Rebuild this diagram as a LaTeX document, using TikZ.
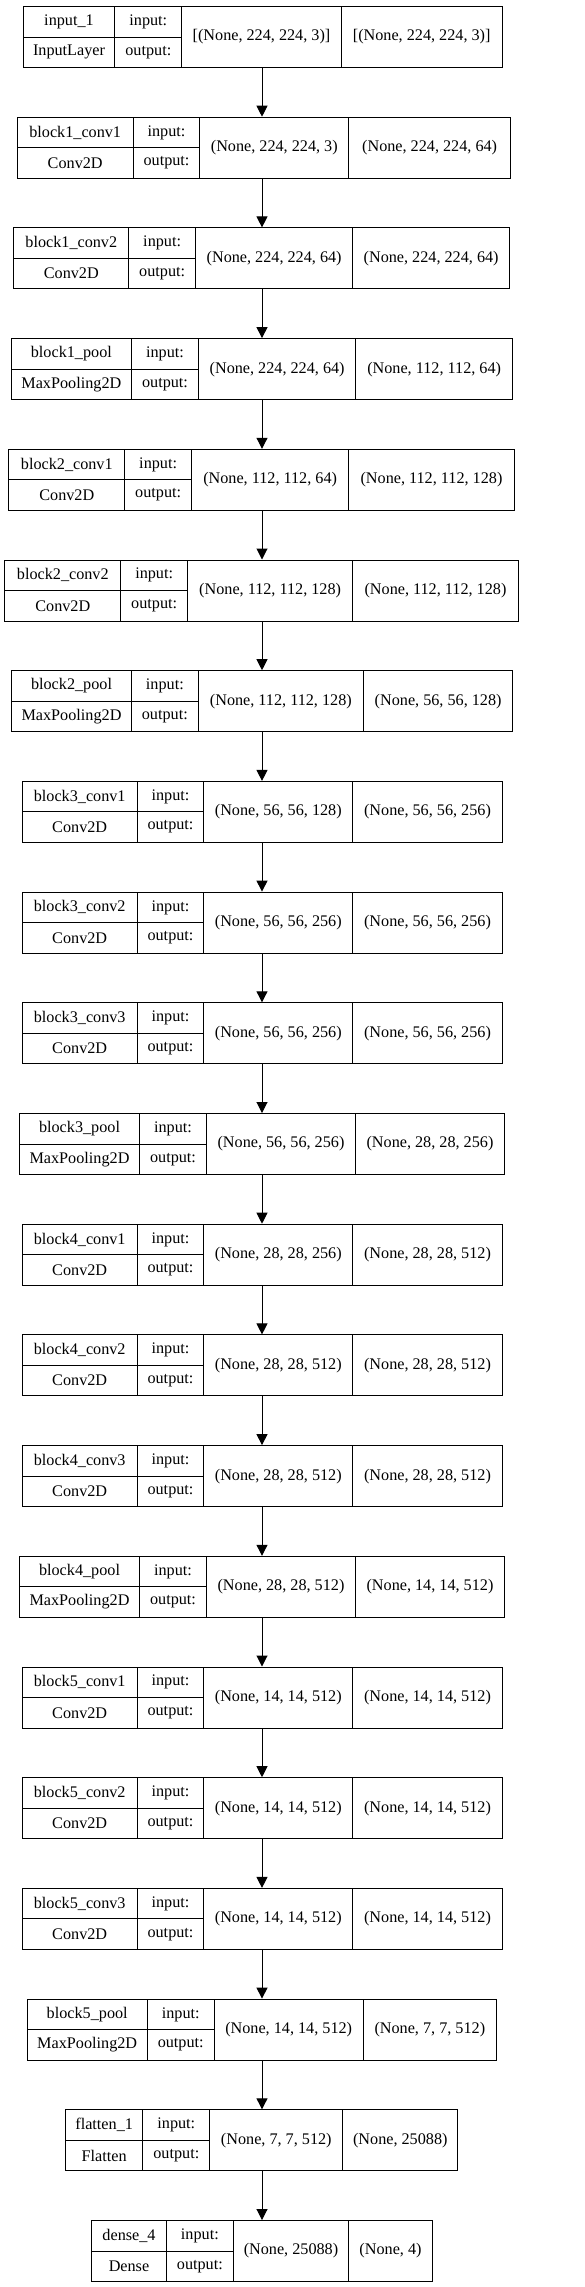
\documentclass[tikz,border=0pt]{standalone}
\usepackage{fontspec}
\setmainfont{Liberation Serif}
\usetikzlibrary{arrows.meta}

\begin{document}
\begin{tikzpicture}[x=1pt,y=-1pt,line width=1pt,
  cell/.style={draw,anchor=north west,inner sep=0pt,minimum height=#1,
    font=\fontsize{16.2}{19}\selectfont},
  arr/.style={-{Triangle[length=11pt,width=11pt]}}]
  \useasboundingbox[fill=white] (0,0) rectangle (585,2287);
  \coordinate (spine) at (262,0);
  % one row per layer: index/name/type/input shape/output shape/column edges
  \foreach \i/\nm/\ty/\ins/\outs/\xa/\xb/\xc/\xd/\xe in {
    0/input\_1/InputLayer/{[(None, 224, 224, 3)]}/{[(None, 224, 224, 3)]}/22.7/114.3/181.3/340.7/501.7,
    1/block1\_conv1/Conv2D/{(None, 224, 224, 3)}/{(None, 224, 224, 64)}/16.7/132.7/199.3/348.3/510,
    2/block1\_conv2/Conv2D/{(None, 224, 224, 64)}/{(None, 224, 224, 64)}/13.3/128.3/195/352.3/509,
    3/block1\_pool/MaxPooling2D/{(None, 224, 224, 64)}/{(None, 112, 112, 64)}/11/130.7/198.3/355/512.3,
    4/block2\_conv1/Conv2D/{(None, 112, 112, 64)}/{(None, 112, 112, 128)}/8.3/124.3/191/348.3/513.7,
    5/block2\_conv2/Conv2D/{(None, 112, 112, 128)}/{(None, 112, 112, 128)}/4.3/120.3/187/352.3/517.7,
    6/block2\_pool/MaxPooling2D/{(None, 112, 112, 128)}/{(None, 56, 56, 128)}/11/131/197.7/363/512.3,
    7/block3\_conv1/Conv2D/{(None, 56, 56, 128)}/{(None, 56, 56, 256)}/21.7/136.7/203.3/352.3/501.7,
    8/block3\_conv2/Conv2D/{(None, 56, 56, 256)}/{(None, 56, 56, 256)}/21.7/136.7/203.3/352.3/501.7,
    9/block3\_conv3/Conv2D/{(None, 56, 56, 256)}/{(None, 56, 56, 256)}/21.7/136.7/203.3/352.3/501.7,
    10/block3\_pool/MaxPooling2D/{(None, 56, 56, 256)}/{(None, 28, 28, 256)}/19/139/206/355/504,
    11/block4\_conv1/Conv2D/{(None, 28, 28, 256)}/{(None, 28, 28, 512)}/21.7/136.7/203.3/352.3/501.7,
    12/block4\_conv2/Conv2D/{(None, 28, 28, 512)}/{(None, 28, 28, 512)}/21.7/136.7/203.3/352.3/501.7,
    13/block4\_conv3/Conv2D/{(None, 28, 28, 512)}/{(None, 28, 28, 512)}/21.7/136.7/203.3/352.3/501.7,
    14/block4\_pool/MaxPooling2D/{(None, 28, 28, 512)}/{(None, 14, 14, 512)}/19/139/206/355/504,
    15/block5\_conv1/Conv2D/{(None, 14, 14, 512)}/{(None, 14, 14, 512)}/21.7/136.7/203.3/352.3/501.7,
    16/block5\_conv2/Conv2D/{(None, 14, 14, 512)}/{(None, 14, 14, 512)}/21.7/136.7/203.3/352.3/501.7,
    17/block5\_conv3/Conv2D/{(None, 14, 14, 512)}/{(None, 14, 14, 512)}/21.7/136.7/203.3/352.3/501.7,
    18/block5\_pool/MaxPooling2D/{(None, 14, 14, 512)}/{(None, 7, 7, 512)}/26.7/146.7/213.7/362.7/496,
    19/flatten\_1/Flatten/{(None, 7, 7, 512)}/{(None, 25088)}/65/142.3/209.3/342.3/457.3,
    20/dense\_4/Dense/{(None, 25088)}/{(None, 4)}/91/166/232.7/348.3/431.7}
  {
    \pgfmathsetmacro\ytop{6+110.7*\i}
    \pgfmathsetmacro\ymid{\ytop+30.5}
    \node[cell=30.5,minimum width={\xb-\xa}] (\i-nm) at (\xa,\ytop) {\nm};
    \node[cell=30.5,minimum width={\xb-\xa}] (\i-ty) at (\xa,\ymid) {\ty};
    \node[cell=30.5,minimum width={\xc-\xb}] (\i-in) at (\xb,\ytop) {input:};
    \node[cell=30.5,minimum width={\xc-\xb}] (\i-out) at (\xb,\ymid) {output:};
    \node[cell=61,minimum width={\xd-\xc}] (\i-sin) at (\xc,\ytop) {\ins};
    \node[cell=61,minimum width={\xe-\xd}] (\i-sout) at (\xd,\ytop) {\outs};
  }
  \foreach \i in {1,...,20}
  {
    \pgfmathtruncatemacro\p{\i-1}
    \draw[arr] (\p-sin.south -| spine) -- (\i-sin.north -| spine);
  }
\end{tikzpicture}
\end{document}
